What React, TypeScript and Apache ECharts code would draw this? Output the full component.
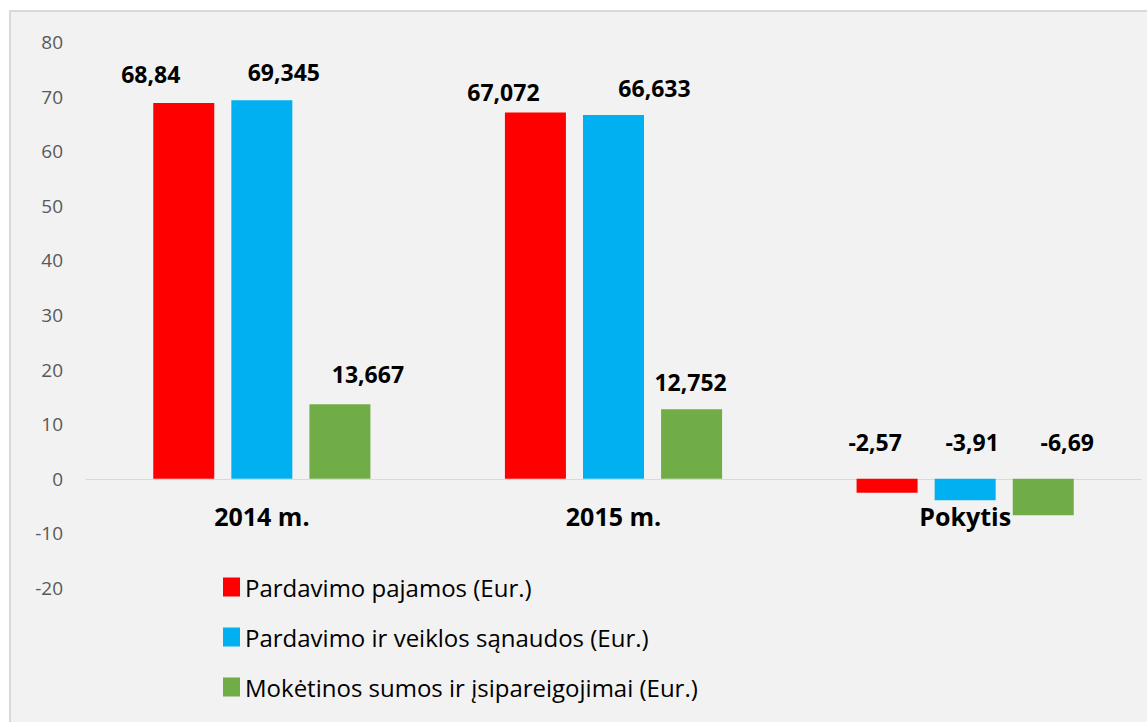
import React, { useEffect, useRef } from "react";
import * as echarts from "echarts";

const categories = ["2014 m.", "2015 m.", "Pokytis"];
const seriesNames = [
  "Pardavimo pajamos (Eur.)",
  "Pardavimo ir veiklos sąnaudos (Eur.)",
  "Mokėtinos sumos ir įsipareigojimai (Eur.)",
];
const salesIncome = [68.84, 67.072, -2.57];
const salesCosts = [69.345, 66.633, -3.91];
const payables = [13.667, 12.752, -6.69];
const seriesColors = ["#ff0000", "#00b0f0", "#70ad47"];

// label nudges (style only), mimicking the original manual label placement
const labelOffsets = [
  [[-33, -17.5], [-32, -9.5], [-12, -25.5]],
  [[22, -16.5], [41, -15.5], [7, -25.5]],
  [[28, -18.5], [-1, -15.5], [24, -25.5]],
];

const FONT = "'Open Sans', 'Noto Sans', sans-serif";

export default function App() {
  const ref = useRef<HTMLDivElement>(null);
  useEffect(() => {
    document.body.style.margin = "0";
    if (!ref.current) return;
    const chart = echarts.init(ref.current, undefined, { renderer: "svg" });
    const values = [salesIncome, salesCosts, payables];
    chart.setOption({
      animation: false,
      backgroundColor: "#ffffff",
      textStyle: { fontFamily: FONT },
      graphic: {
        elements: [
          {
            type: "rect",
            z: -10,
            silent: true,
            shape: { x: 10, y: 11, width: 1160, height: 740 },
            style: { fill: "#f2f2f2", stroke: "#d9d9d9", lineWidth: 2 },
          },
        ],
      },
      grid: { left: 86, right: 6, top: 42, height: 546 },
      legend: {
        orient: "vertical",
        left: 223,
        top: 575,
        padding: 0,
        itemWidth: 17,
        itemHeight: 19,
        itemGap: 26,
        icon: "rect",
        textStyle: { fontFamily: FONT, fontSize: 24, color: "#000000", lineHeight: 24 },
        data: seriesNames,
      },
      xAxis: {
        type: "category",
        data: categories,
        axisLine: { onZero: true, lineStyle: { color: "#d9d9d9", width: 1 } },
        axisTick: { show: false },
        axisLabel: {
          margin: -85,
          fontFamily: FONT,
          fontSize: 25,
          fontWeight: "bold",
          color: "#000000",
        },
      },
      yAxis: {
        type: "value",
        min: -20,
        max: 80,
        interval: 10,
        axisLine: { show: false },
        axisTick: { show: false },
        splitLine: { show: false },
        axisLabel: { margin: 23, fontFamily: FONT, fontSize: 19, color: "#595959" },
      },
      series: values.map((vals, si) => ({
        name: seriesNames[si],
        type: "bar",
        barWidth: 61,
        barGap: "28%",
        itemStyle: { color: seriesColors[si] },
        data: vals.map((v, ci) => ({
          value: v,
          label: {
            show: true,
            position: "top",
            distance: 0,
            offset: labelOffsets[si][ci],
            fontFamily: FONT,
            fontSize: 23,
            fontWeight: "bold",
            color: "#000000",
            formatter: (p: any) => String(p.value).replace(".", ","),
          },
        })),
      })),
    });
    return () => chart.dispose();
  }, []);
  return <div ref={ref} style={{ width: 1147, height: 722 }} />;
}
